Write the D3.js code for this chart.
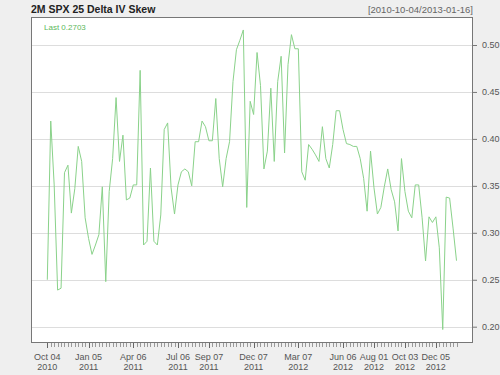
<!DOCTYPE html>
<html>
<head>
<meta charset="utf-8">
<script src="https://cdn.jsdelivr.net/npm/d3@7"></script>
<style>
  html, body { margin: 0; padding: 0; background: #efefef; }
  svg { display: block; font-family: "Liberation Sans", Arial, sans-serif; }
</style>
</head>
<body>
<svg id="chart" width="500" height="375"></svg>
<script>
// ---- Data (weekly observations, index based as in quantmod chartSeries) ----
const title = "2M SPX 25 Delta IV Skew";
const dateRange = "[2010-10-04/2013-01-16]";
const skew = [
  0.250, 0.419, 0.351, 0.239, 0.241, 0.364, 0.372, 0.321, 0.347, 0.392,
  0.376, 0.316, 0.294, 0.277, 0.287, 0.298, 0.349, 0.248, 0.344, 0.379,
  0.444, 0.376, 0.404, 0.335, 0.337, 0.351, 0.351, 0.473, 0.287, 0.291,
  0.369, 0.291, 0.287, 0.319, 0.410, 0.417, 0.348, 0.320, 0.351, 0.365,
  0.368, 0.365, 0.350, 0.397, 0.397, 0.419, 0.413, 0.398, 0.398, 0.443,
  0.379, 0.349, 0.379, 0.397, 0.461, 0.495, 0.505, 0.516, 0.327, 0.440,
  0.426, 0.492, 0.457, 0.368, 0.387, 0.454, 0.376, 0.461, 0.488, 0.385,
  0.479, 0.511, 0.496, 0.496, 0.365, 0.356, 0.394, 0.389, 0.383, 0.376,
  0.413, 0.379, 0.369, 0.394, 0.430, 0.430, 0.410, 0.395, 0.394, 0.392,
  0.392, 0.379, 0.358, 0.323, 0.387, 0.348, 0.320, 0.327, 0.349, 0.368,
  0.346, 0.333, 0.302, 0.379, 0.344, 0.323, 0.316, 0.351, 0.351, 0.316,
  0.270, 0.317, 0.311, 0.317, 0.284, 0.197, 0.338, 0.337, 0.305, 0.2703
];
const tickIndex = [0, 12, 25, 38, 47, 60, 73, 86, 95, 104, 113];
const tickMonth = ["Oct 04", "Jan 05", "Apr 06", "Jul 06", "Sep 07", "Dec 07",
                   "Mar 07", "Jun 06", "Aug 01", "Oct 03", "Dec 05"];
const tickYear = ["2010", "2011", "2011", "2011", "2011", "2011",
                  "2012", "2012", "2012", "2012", "2012"];
const yTicks = [0.20, 0.25, 0.30, 0.35, 0.40, 0.45, 0.50];

// ---- Layout ----
const svg = d3.select("#chart");
const plot = { left: 31, top: 17, right: 473, bottom: 343 };

const x = d3.scaleLinear().domain([0, skew.length - 1]).range([47.3, 456.5]);
const y = d3.scaleLinear().domain([0.20, 0.50]).range([326.7, 45]);

// Titles
svg.append("text").attr("x", plot.left).attr("y", 13)
  .attr("font-size", 10.5).attr("font-weight", "bold").attr("fill", "#222")
  .text(title);
svg.append("text").attr("x", plot.right).attr("y", 13)
  .attr("text-anchor", "end").attr("font-size", 9.5).attr("fill", "#666")
  .text(dateRange);

// Plot background
svg.append("rect")
  .attr("x", plot.left).attr("y", plot.top)
  .attr("width", plot.right - plot.left).attr("height", plot.bottom - plot.top)
  .attr("fill", "#ffffff");

// Grid lines
svg.append("g").selectAll("line").data(yTicks).join("line")
  .attr("x1", plot.left).attr("x2", plot.right)
  .attr("y1", d => Math.round(y(d)) + 0.5).attr("y2", d => Math.round(y(d)) + 0.5)
  .attr("stroke", "#dddddd").attr("stroke-width", 1);

// Series line
const line = d3.line().x((d, i) => x(i)).y(d => y(d));
svg.append("path").datum(skew)
  .attr("d", line)
  .attr("fill", "none").attr("stroke", "#8ad28a").attr("stroke-width", 1);

// Border
svg.append("rect")
  .attr("x", plot.left + 0.5).attr("y", plot.top + 0.5)
  .attr("width", plot.right - plot.left - 1).attr("height", plot.bottom - plot.top - 1)
  .attr("fill", "none").attr("stroke", "#777").attr("stroke-width", 1);

// Last value label
svg.append("text").attr("x", 44).attr("y", 30)
  .attr("font-size", 8).attr("fill", "#5cb85c")
  .text("Last " + skew[skew.length - 1].toFixed(4));

// Right y axis
const yAxis = d3.axisRight(y).tickValues(yTicks).tickFormat(d3.format(".2f"))
  .tickSize(4).tickPadding(5);
const gy = svg.append("g").attr("transform", `translate(${plot.right},0)`).call(yAxis);
gy.select(".domain").remove();
gy.selectAll("line").attr("stroke", "#777");
gy.selectAll("text").attr("font-size", 9).attr("fill", "#555")
  .attr("font-family", "Liberation Sans, Arial, sans-serif");

// Bottom x axis: minor ticks at each observation, labelled majors
const gx = svg.append("g").attr("transform", `translate(0,${plot.bottom})`);
gx.selectAll("line.minor").data(d3.range(skew.length)).join("line")
  .attr("class", "minor")
  .attr("x1", i => Math.round(x(i)) + 0.5).attr("x2", i => Math.round(x(i)) + 0.5)
  .attr("y1", 0).attr("y2", 4).attr("stroke", "#999");
gx.selectAll("line.major").data(tickIndex).join("line")
  .attr("class", "major")
  .attr("x1", i => Math.round(x(i)) + 0.5).attr("x2", i => Math.round(x(i)) + 0.5)
  .attr("y1", 0).attr("y2", 5).attr("stroke", "#666");
gx.selectAll("text.m").data(tickIndex).join("text")
  .attr("class", "m")
  .attr("x", i => x(i)).attr("y", 17)
  .attr("text-anchor", "middle").attr("font-size", 9).attr("fill", "#555")
  .text((d, k) => tickMonth[k]);
gx.selectAll("text.yr").data(tickIndex).join("text")
  .attr("class", "yr")
  .attr("x", i => x(i)).attr("y", 27)
  .attr("text-anchor", "middle").attr("font-size", 9).attr("fill", "#555")
  .text((d, k) => tickYear[k]);
</script>
</body>
</html>
